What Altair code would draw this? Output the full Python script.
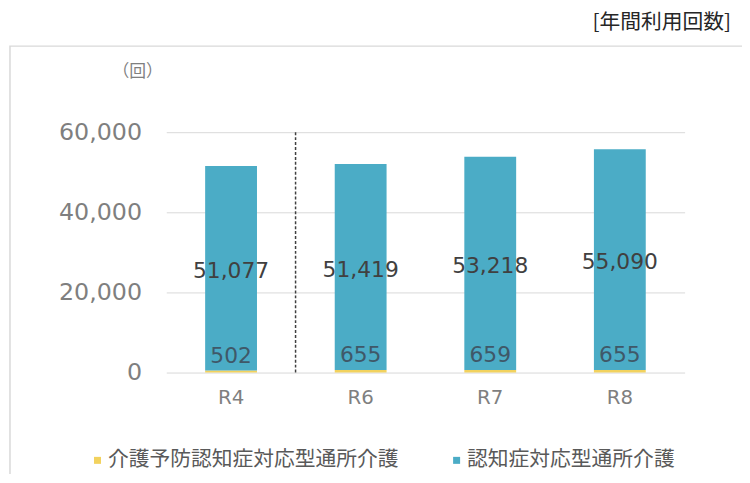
import altair as alt
import pandas as pd

categories = ["R4", "R6", "R7", "R8"]
series_names = ["介護予防認知症対応型通所介護", "認知症対応型通所介護"]
prevention_values = [502, 655, 659, 655]
main_values = [51077, 51419, 53218, 55090]
y_ticks = [0, 20000, 40000, 60000]
colors = ["#f2d25e", "#4bacc6"]

rows = []
for c, p, m in zip(categories, prevention_values, main_values):
    rows.append({"cat": c, "series": series_names[0], "value": p, "order": 0})
    rows.append({"cat": c, "series": series_names[1], "value": m, "order": 1})
long_df = pd.DataFrame(rows)
wide_df = pd.DataFrame({"cat": categories, "prev": prevention_values, "main": main_values})

NUM_FONT = "DejaVu Sans"
JP_FONT = "Noto Sans CJK JP"

xscale = alt.Scale(domain=categories, paddingInner=0.6, paddingOuter=0.3, range=[5, 529])
yscale = alt.Scale(domain=[0, 60000])

bars = alt.Chart(long_df).mark_bar().encode(
    x=alt.X("cat:N", scale=xscale, sort=categories,
            axis=alt.Axis(title=None, labelAngle=0, labelFont=NUM_FONT, labelFontSize=20,
                          labelColor="#7f7f7f", labelPadding=15, ticks=False, domain=False)),
    y=alt.Y("value:Q", stack="zero", scale=yscale,
            axis=alt.Axis(title=None, values=y_ticks, format=",.0f", labelFont=NUM_FONT,
                          labelFontSize=24, labelColor="#7f7f7f", labelPadding=20,
                          ticks=False, domain=False, gridColor="#d9d9d9")),
    color=alt.Color("series:N", scale=alt.Scale(domain=series_names, range=colors),
                    legend=alt.Legend(title=None, orient="none", legendX=-75, legendY=321,
                                      direction="horizontal", symbolType="square",
                                      symbolSize=50, symbolStrokeWidth=0,
                                      labelFont=JP_FONT, labelFontSize=21, labelLimit=0,
                                      labelColor="#595959", columnPadding=48,
                                      labelOffset=0, padding=0)),
    order=alt.Order("order:Q"),
)

main_labels = alt.Chart(wide_df).transform_calculate(
    mid="datum.prev + datum.main / 2"
).mark_text(font=NUM_FONT, fontSize=22, color="#404040", baseline="middle", dy=3).encode(
    x=alt.X("cat:N", scale=xscale, sort=categories),
    y=alt.Y("mid:Q", scale=yscale),
    text=alt.Text("main:Q", format=",.0f"),
)

prev_labels = alt.Chart(wide_df).mark_text(
    font=NUM_FONT, fontSize=22, color="#3f5868", baseline="middle", dy=-15
).encode(
    x=alt.X("cat:N", scale=xscale, sort=categories),
    y=alt.Y("prev:Q", scale=yscale),
    text=alt.Text("prev:Q", format=",.0f"),
)

one = alt.Data(values=[{}])

divider = alt.Chart(one).mark_rule(color="#404040", strokeDash=[3, 2], strokeWidth=1.5,
                                   xOffset=39).encode(
    x=alt.XDatum("R4", scale=xscale, bandPosition=1),
    y=alt.YDatum(60000, scale=yscale),
    y2=alt.datum(-500),
)

frame = alt.Chart(one).mark_rect(filled=False, stroke="#d9d9d9", strokeWidth=1.5).encode(
    x=alt.value(-153), x2=alt.value(620), y=alt.value(-87), y2=alt.value(360)
)

title = alt.Chart(one).mark_text(font=JP_FONT, fontSize=21, color="#262626", align="right",
                                 baseline="middle").encode(
    x=alt.value(576), y=alt.value(-110), text=alt.value("[年間利用回数]")
)

unit = alt.Chart(one).mark_text(font=JP_FONT, fontSize=17, color="#7f7f7f", align="center",
                                baseline="middle").encode(
    x=alt.value(-24), y=alt.value(-61), text=alt.value("（回）")
)

chart = alt.layer(frame, bars, divider, main_labels, prev_labels, title, unit).properties(
    width=540, height=243,
    background="white",
    autosize=alt.AutoSizeParams(type="none"),
    padding={"left": 155, "top": 123, "right": 47, "bottom": 100},
).configure_view(stroke=None)

chart.save("out.html", embed_options={"renderer": "svg", "actions": False})
